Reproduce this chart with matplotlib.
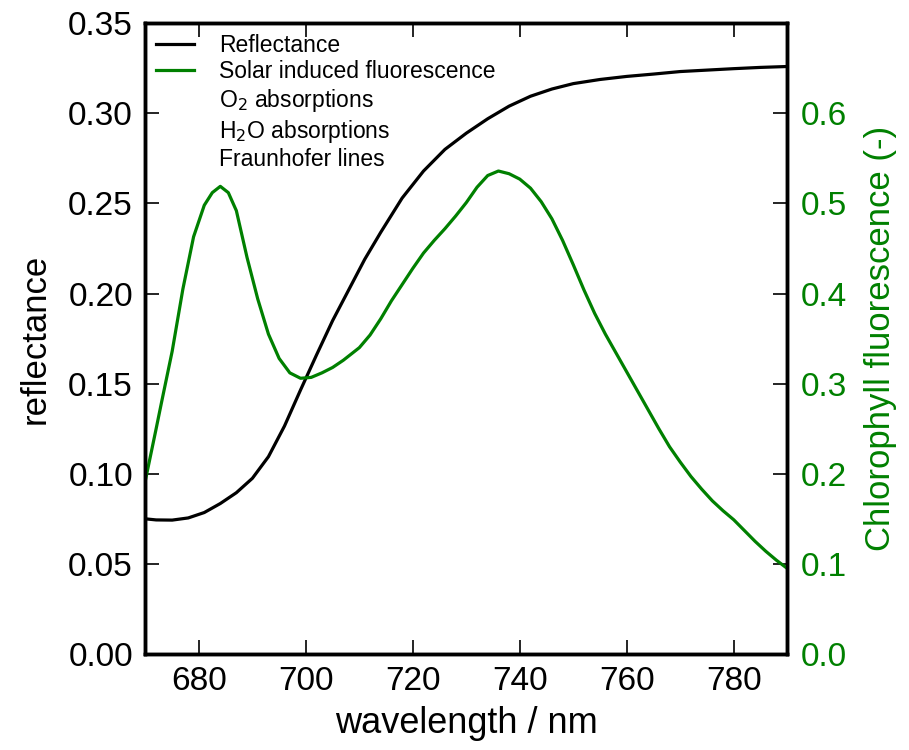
import matplotlib
matplotlib.use('Agg')
import matplotlib.pyplot as plt
from matplotlib.lines import Line2D

plt.rcParams['font.family'] = ['Liberation Sans', 'DejaVu Sans']

# reflectance curve (left axis)
wl_refl = [670, 672, 675, 678, 681, 684, 687, 690, 693, 696, 699, 702, 705, 708,
           711, 714, 718, 722, 726, 730, 734, 738, 742, 746, 750, 755, 760, 765,
           770, 775, 780, 785, 790]
refl = [0.0750, 0.0744, 0.0743, 0.0755, 0.0785, 0.0835, 0.0895, 0.0975, 0.1095,
        0.1265, 0.1465, 0.1660, 0.1850, 0.2020, 0.2190, 0.2340, 0.2530, 0.2680,
        0.2800, 0.2890, 0.2970, 0.3040, 0.3095, 0.3135, 0.3165, 0.3188, 0.3205,
        0.3218, 0.3232, 0.3240, 0.3248, 0.3255, 0.3260]

# solar induced fluorescence (right axis)
wl_sif = [670, 672, 673, 675, 677, 679, 681, 682.5, 684, 685.5, 687, 689, 691, 693,
          695, 697, 699, 701, 703, 705, 707, 710, 712, 714, 716, 718, 720, 722,
          724, 726, 728, 730, 732, 734, 736, 738, 740, 742, 744, 746, 748, 750,
          752, 754, 756, 758, 760, 762, 764, 766, 768, 770, 772, 774, 776, 778,
          780, 782, 784, 786, 788, 790]
sif = [0.193, 0.250, 0.279, 0.336, 0.405, 0.463, 0.498, 0.512, 0.519, 0.512, 0.492,
       0.440, 0.394, 0.355, 0.328, 0.312, 0.306, 0.307, 0.312, 0.318, 0.326, 0.340,
       0.354, 0.372, 0.392, 0.410, 0.428, 0.445, 0.459, 0.472, 0.486, 0.501, 0.518,
       0.531, 0.536, 0.533, 0.527, 0.517, 0.502, 0.483, 0.459, 0.432, 0.404, 0.378,
       0.355, 0.334, 0.313, 0.292, 0.271, 0.250, 0.230, 0.213, 0.197, 0.183, 0.170,
       0.159, 0.149, 0.137, 0.125, 0.114, 0.104, 0.095]

x_ticks = [680, 700, 720, 740, 760, 780]
left_ticks = [0.00, 0.05, 0.10, 0.15, 0.20, 0.25, 0.30, 0.35]
right_ticks = [0.0, 0.1, 0.2, 0.3, 0.4, 0.5, 0.6]

legend_labels = ['Reflectance', 'Solar induced fluorescence',
                 'O$_2$ absorptions', 'H$_2$O absorptions', 'Fraunhofer lines']

green = '#008000'

fig = plt.figure(figsize=(9.09, 7.5), dpi=100)
ax = fig.add_axes([0.160, 0.128, 0.706, 0.841])
ax2 = ax.twinx()

l1, = ax.plot(wl_refl, refl, color='black', lw=2.3)
l2, = ax2.plot(wl_sif, sif, color=green, lw=2.3)

ax.set_xlim(670, 790)
ax.set_ylim(0, 0.35)
ax2.set_ylim(0, 0.7)
ax.set_xticks(x_ticks)
ax.set_yticks(left_ticks)
ax.set_yticklabels(['%.2f' % v for v in left_ticks])
ax2.set_yticks(right_ticks)
ax2.set_yticklabels(['%.1f' % v for v in right_ticks])

ax.tick_params(axis='both', direction='in', length=10, width=1.2, labelsize=24,
               top=True, pad=9)
ax.tick_params(axis='y', right=False)
ax2.tick_params(axis='y', direction='in', length=10, width=1.2, labelsize=24,
                labelcolor=green, pad=10)

for a in (ax, ax2):
    for s in a.spines.values():
        s.set_linewidth(2.5)

ax.set_xlabel('wavelength / nm', fontsize=26, labelpad=6)
ax.set_ylabel('reflectance', fontsize=25, labelpad=12)
ax2.set_ylabel('Chlorophyll fluorescence (-)', fontsize=25, color=green, labelpad=12)

blank = [Line2D([], [], color='none') for i in range(3)]
ax.legend([l1, l2] + blank, legend_labels, loc='upper left', frameon=False,
          fontsize=16.5, handlelength=1.65, handletextpad=1.1, labelspacing=0.16,
          borderaxespad=0.2, borderpad=0.25)

fig.savefig('out.png', dpi=100)
